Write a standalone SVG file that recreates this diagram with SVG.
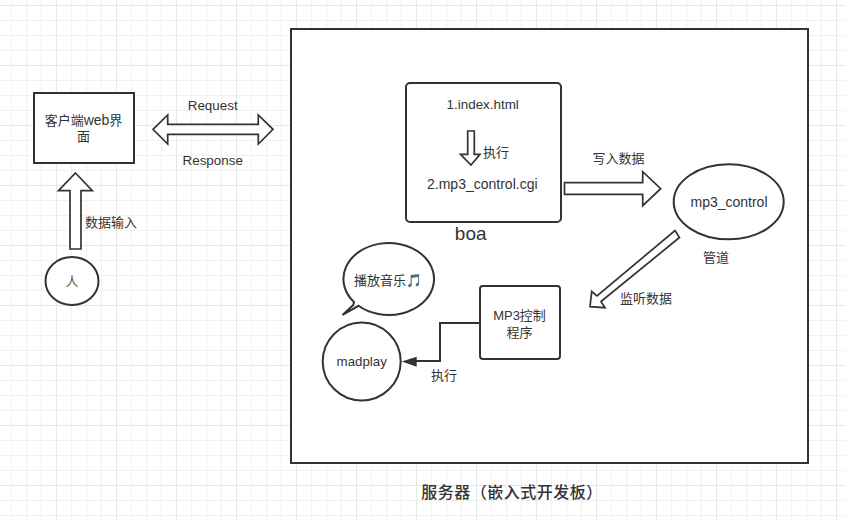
<svg xmlns="http://www.w3.org/2000/svg" width="846" height="521" viewBox="0 0 846 521">
<defs>
<style>
.s{fill:#fff;stroke:#333;stroke-width:2;stroke-linejoin:miter}
.a{fill:#fff;stroke:#333;stroke-width:1.7;stroke-linejoin:miter}
text{font-family:"Liberation Sans","Noto Sans CJK SC","DejaVu Sans",sans-serif;font-size:13px;fill:#333}
.c{text-anchor:middle}
</style>
<pattern id="g" width="60" height="60" patternUnits="userSpaceOnUse" x="11" y="5">
<path d="M0.5 0V60M15.5 0V60M30.5 0V60M45.5 0V60M0 15.5H60M0 30.5H60M0 45.5H60" fill="none" stroke="#f1f1f1"/>
<path d="M45.5 0V60M0 0.5H60" fill="none" stroke="#e6e6e6"/>
</pattern>
</defs>
<rect id="background" width="846" height="521" fill="#fff"/>
<rect id="grid" width="846" height="521" fill="url(#g)"/>
<g id="server"><rect class="s" x="291" y="29" width="517" height="434"/><text class="c" x="512" y="498" style="font-size:16px;font-weight:500;letter-spacing:.5px">服务器（嵌入式开发板）</text></g>
<g id="client"><rect class="s" x="34" y="93" width="100" height="70"/><text class="c" x="83.5" y="125">客户端<tspan style="font-size:14px">web</tspan>界</text><text class="c" x="83.5" y="141">面</text></g>
<g id="person"><ellipse class="s" cx="72" cy="281" rx="26.5" ry="24"/><text class="c" x="72" y="286" style="fill:#555">人</text></g>
<g id="boa"><rect class="s" x="406" y="83" width="155" height="139" rx="4"/><text class="c" x="482.7" y="108.5" style="font-size:13.4px">1.index.html</text><text class="c" x="482.3" y="189" style="font-size:14px">2.mp3_control.cgi</text><text x="483" y="157">执行</text><text class="c" x="470.7" y="239.5" style="font-size:19px">boa</text></g>
<g id="pipe"><ellipse class="s" cx="728.7" cy="201.8" rx="55" ry="37.5"/><text class="c" x="729" y="207" style="font-size:14px">mp3_control</text><text x="703" y="262">管道</text></g>
<g id="bubble"><path class="s" d="M353.3 305L354 302.1A45.3 36 0 1 1 358.5 305.8L342.5 315Z"/><text x="354" y="285">播放音乐🎵</text></g>
<g id="madplay"><circle class="s" cx="361.7" cy="361.5" r="39"/><text class="c" x="361.7" y="366" style="font-size:13.3px">madplay</text></g>
<g id="player"><rect class="s" x="480" y="286" width="80" height="73" rx="3"/><text class="c" x="519.5" y="320">MP3控制</text><text class="c" x="519.5" y="336.5">程序</text></g>
<g id="connectors">
<path id="c-request" class="a" d="M153 129.3L167.7 115V124.3H258.3V115L273 129.3L258.3 144V134.3H167.7V144Z"/>
<path id="c-input" class="a" d="M75.5 173L92.3 190.7H81V249H70V190.7H58.5Z"/>
<path id="c-exec" class="a" d="M467.7 131H474.3V154.3H480L471 165L460.5 154.3H467.7Z"/>
<path id="c-write" class="a" d="M564.5 182.7H642.7V171.7L660.7 188.7L642.7 205.7V194.3H564.5Z"/>
<path id="c-listen" class="a" d="M675 230.5L679.5 237.5L601 301.5L605 307.7L590 306.7L591.7 291.5L597 296Z"/>
<path id="c-run" d="M480 323H440V361H414" fill="none" stroke="#333" stroke-width="2"/>
<path id="c-run-head" d="M401.7 361.5L416.7 356.7V366.7Z" fill="#333"/>
</g>
<g id="labels"><text class="c" x="212.7" y="109.5" style="font-size:13.4px">Request</text><text class="c" x="212.7" y="165" style="font-size:13.4px">Response</text><text x="85" y="227">数据输入</text><text x="592.5" y="162.5">写入数据</text><text x="620" y="303">监听数据</text><text x="431" y="380">执行</text></g>
</svg>
